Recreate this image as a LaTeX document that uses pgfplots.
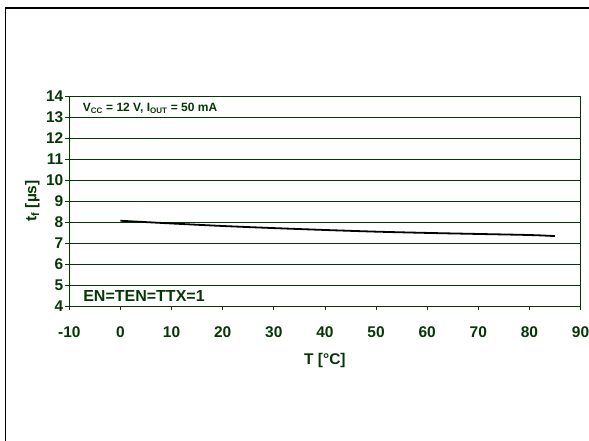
\documentclass[border=0pt]{standalone}
\usepackage{fontspec}
\setmainfont{Liberation Sans}
\usepackage{pgfplots}
\pgfplotsset{compat=1.18}
\definecolor{dkg}{RGB}{5,55,5}
\begin{document}
\begin{tikzpicture}
\useasboundingbox (0pt,0pt) rectangle (589pt,441pt);
\draw[line width=1.7pt,black] (5.5pt,0pt) -- (5.5pt,433pt) -- (589pt,433pt);
\begin{axis}[
  at={(69.3pt,135pt)}, anchor=south west,
  scale only axis, width=511.2pt, height=210pt,
  xmin=-10, xmax=90, ymin=4, ymax=14,
  xtick={-10,0,...,90}, ytick={4,5,...,14},
  axis line style={dkg, line width=0.8pt},
  ymajorgrids, grid style={dkg, line width=0.8pt},
  major tick style={dkg, line width=0.8pt},
  major tick length=4pt,
  tick align=outside,
  xtick pos=bottom, ytick pos=left,
  /pgf/number format/assume math mode=true,
  every tick label/.append style={font=\bfseries\fontsize{15.5}{15.5}\selectfont, text=dkg},
  xticklabel style={yshift=-13pt},
  yticklabel style={xshift=1.5pt},
  xlabel={T [°C]}, ylabel={t\textsubscript{f} [µs]},
  every axis x label/.style={at={(axis description cs:0.5,0)}, anchor=center, yshift=-54pt, font=\bfseries\fontsize{15.5}{15.5}\selectfont, text=dkg},
  every axis y label/.style={at={(axis description cs:0,0.5)}, anchor=center, rotate=90, yshift=37pt, font=\bfseries\fontsize{15.5}{15.5}\selectfont, text=dkg},
  clip=false,
]
\addplot[black, line width=1.8pt, smooth] coordinates {
(0,8.06) (10,7.93) (20,7.81) (30,7.71) (40,7.62) (50,7.54) (60,7.48) (70,7.43) (80,7.38) (85,7.33)
};
\node[anchor=west, text=dkg, font=\bfseries\fontsize{12}{12}\selectfont, inner sep=0pt] at (axis cs:-7.4,13.43) {V\textsubscript{CC} = 12 V, I\textsubscript{OUT} = 50 mA};
\node[anchor=west, text=dkg, font=\bfseries\fontsize{16}{16}\selectfont, inner sep=0pt] at (axis cs:-7.3,4.49) {EN=TEN=TTX=1};
\end{axis}
\end{tikzpicture}
\end{document}
